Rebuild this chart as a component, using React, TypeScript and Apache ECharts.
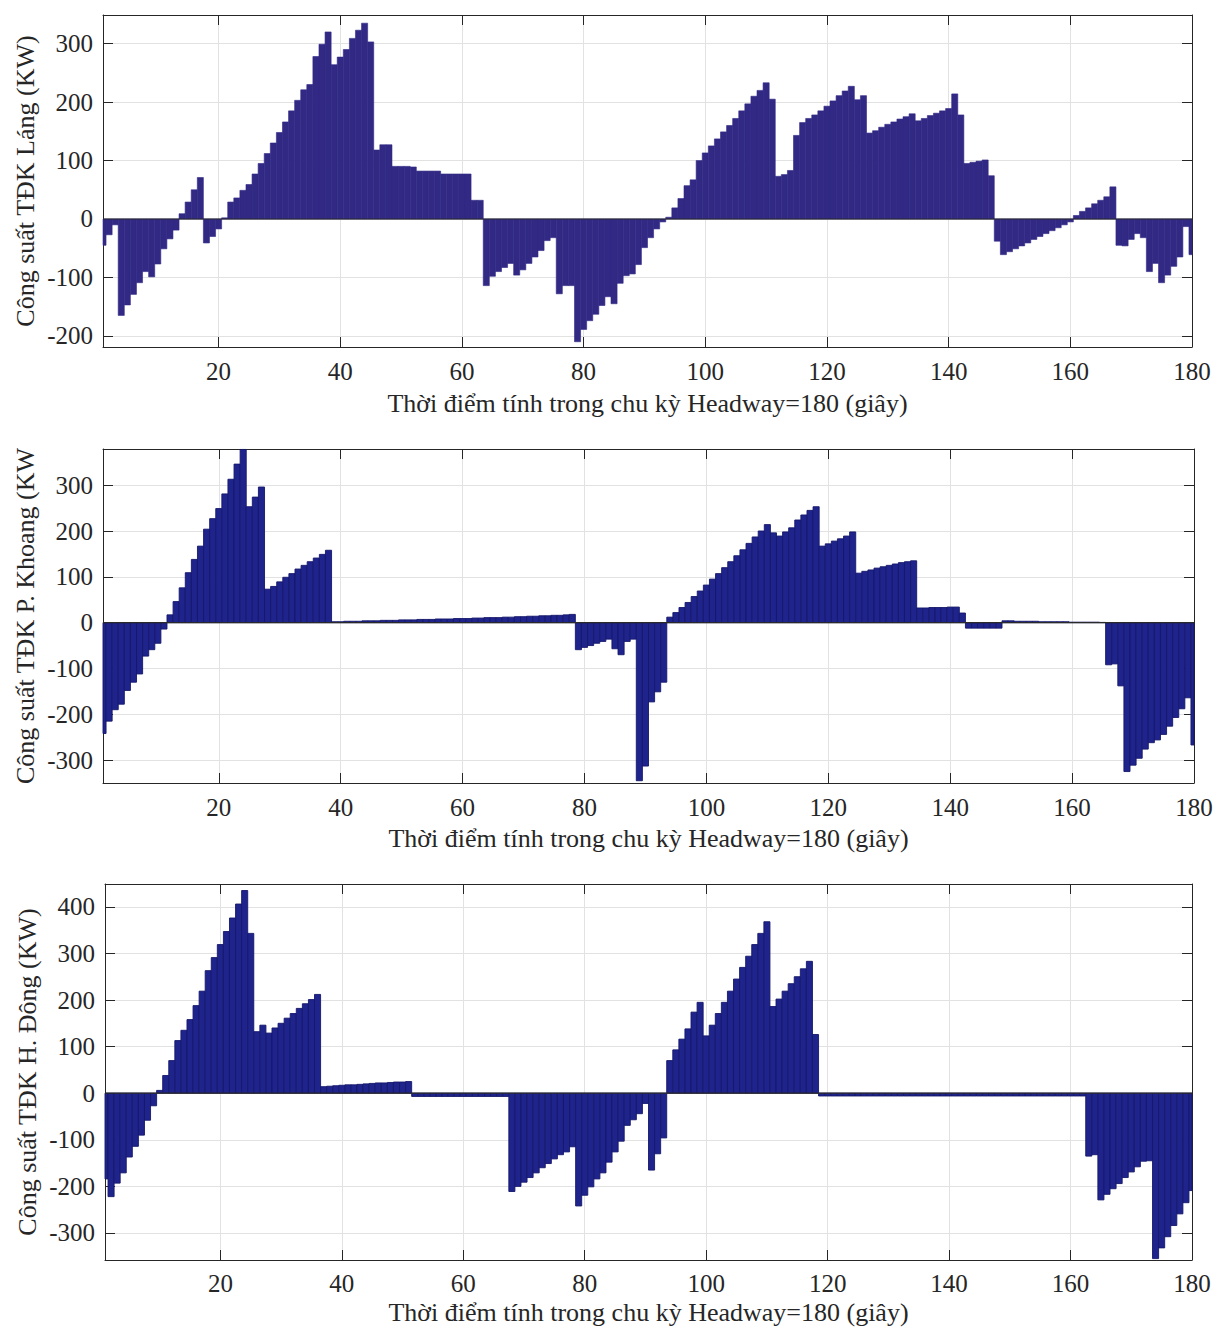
import React, { useEffect, useRef } from "react";
import * as echarts from "echarts";

// ---- data (kW per second, t = 1..180) ----
const langKW = [
  -45, -27, -10, -165, -147, -129, -109, -90, -99, -77,
  -51, -34, -19, 9, 29, 50, 71, -41, -30, -17,
  2, 29, 36, 49, 59, 77, 95, 112, 130, 148,
  166, 185, 203, 221, 230, 278, 299, 320, 264, 277,
  290, 309, 323, 335, 303, 118, 127, 127, 90, 90,
  90, 89, 82, 82, 82, 82, 77, 77, 77, 77,
  77, 32, 32, -114, -98, -90, -83, -76, -96, -87,
  -76, -65, -54, -37, -32, -128, -114, -114, -210, -189,
  -174, -163, -148, -133, -145, -110, -97, -94, -78, -49,
  -32, -17, -5, 3, 19, 35, 57, 67, 100, 113,
  125, 137, 149, 160, 172, 185, 197, 210, 220, 233,
  205, 73, 76, 83, 143, 165, 172, 178, 185, 193,
  202, 211, 219, 227, 204, 211, 147, 151, 157, 162,
  166, 171, 175, 180, 168, 172, 177, 181, 185, 189,
  214, 178, 95, 97, 99, 101, 74, -38, -61, -56,
  -51, -46, -41, -35, -30, -25, -20, -15, -10, -5,
  6, 13, 19, 26, 32, 38, 55, -45, -46, -35,
  -25, -32, -90, -76, -109, -96, -81, -65, -13, -61,
];

const khoangKW = [
  -242, -215, -190, -178, -148, -130, -112, -73, -59, -45,
  -14, 17, 46, 76, 109, 138, 167, 204, 227, 249,
  281, 313, 346, 378, 253, 274, 296, 73, 79, 89,
  99, 107, 117, 125, 133, 141, 149, 158, 2, 2,
  3, 3, 3, 4, 4, 4, 5, 5, 5, 6,
  6, 6, 7, 7, 7, 8, 8, 8, 9, 9,
  9, 10, 10, 11, 11, 11, 12, 12, 13, 13,
  14, 14, 15, 15, 16, 16, 17, 18, -59, -54,
  -50, -45, -41, -36, -57, -70, -41, -36, -345, -313,
  -173, -151, -130, 12, 22, 33, 44, 57, 69, 82,
  95, 107, 120, 133, 146, 159, 173, 187, 200, 214,
  196, 189, 198, 207, 224, 235, 245, 253, 167, 172,
  178, 183, 189, 198, 108, 112, 115, 119, 122, 125,
  128, 131, 133, 135, 32, 32, 33, 33, 33, 34,
  34, 21, -12, -12, -12, -12, -12, -12, 4, 4,
  3, 3, 3, 3, 2, 2, 2, 2, 2, 1,
  1, 1, 1, 1, 0.5, -92, -90, -138, -325, -311,
  -296, -276, -262, -256, -244, -226, -207, -188, -164, -267,
];

const dongKW = [
  -184, -222, -193, -171, -137, -114, -90, -58, -27, 6,
  38, 70, 113, 135, 158, 188, 219, 263, 291, 319,
  347, 376, 406, 435, 343, 132, 146, 129, 140, 150,
  161, 171, 182, 192, 201, 212, 14, 15, 16, 17,
  18, 18, 19, 20, 21, 22, 22, 23, 24, 24,
  25, -7, -7, -7, -7, -7, -7, -7, -7, -7,
  -7, -7, -7, -7, -7, -7, -7, -211, -200, -191,
  -181, -171, -160, -151, -141, -132, -126, -115, -242, -219,
  -201, -184, -171, -148, -126, -103, -69, -57, -44, -22,
  -165, -130, -96, 70, 93, 116, 138, 174, 195, 123,
  146, 171, 195, 219, 245, 270, 294, 319, 343, 368,
  186, 202, 219, 235, 250, 267, 283, 126, -6, -6,
  -6, -6, -6, -6, -6, -6, -6, -6, -6, -6,
  -6, -6, -6, -6, -6, -6, -6, -6, -6, -6,
  -6, -6, -6, -6, -6, -6, -6, -6, -6, -6,
  -6, -6, -6, -6, -6, -6, -6, -6, -6, -6,
  -6, -6, -135, -132, -229, -217, -205, -194, -181, -169,
  -158, -146, -145, -355, -332, -308, -284, -259, -235, -209,
];

const xTicks = [20, 40, 60, 80, 100, 120, 140, 160, 180];
const langTicks = [-200, -100, 0, 100, 200, 300];
const khoangTicks = [-300, -200, -100, 0, 100, 200, 300];
const dongTicks = [-300, -200, -100, 0, 100, 200, 300, 400];

const xTitle = "Thời điểm tính trong chu kỳ Headway=180 (giây)";
const yTitles = [
  "Công suất TĐK Láng (KW)",
  "Công suất TĐK P. Khoang (KW",
  "Công suất TĐK H. Đông (KW)",
];

const FONT = "'Liberation Serif', 'DejaVu Serif', serif";
const TXT = "#262626";
const TICK_FS = 25;
const TITLE_FS = 26;

const panels = [
  {
    data: langKW, yMin: -219, yMax: 349, yTicks: langTicks, title: yTitles[0],
    grid: { left: 103, top: 15, width: 1089, height: 332 },
    fill: "#312984", stroke: "#312984", strokeW: 0.6,
    labelMargin: 12, nameGap: 43,
  },
  {
    data: khoangKW, yMin: -350, yMax: 379, yTicks: khoangTicks, title: yTitles[1],
    grid: { left: 103, top: 449, width: 1091, height: 334 },
    fill: "#1F238C", stroke: "#15176A", strokeW: 0.9,
    labelMargin: 12, nameGap: 42,
  },
  {
    data: dongKW, yMin: -358, yMax: 449, yTicks: dongTicks, title: yTitles[2],
    grid: { left: 105, top: 884, width: 1087, height: 376 },
    fill: "#1F238C", stroke: "#15176A", strokeW: 0.9,
    labelMargin: 11, nameGap: 39,
  },
];

function buildOption() {
  const grid: any[] = [];
  const xAxis: any[] = [];
  const yAxis: any[] = [];
  const series: any[] = [];
  const lineStyle = { color: TXT, width: 1 };

  panels.forEach((p, i) => {
    grid.push({ ...p.grid, show: false, containLabel: false, outerBoundsMode: "none" });
    xAxis.push({
      type: "value", gridIndex: i, min: 1, max: 180, position: "bottom",
      axisLine: { show: true, onZero: false, lineStyle },
      axisTick: { show: true, inside: true, length: 10, customValues: xTicks, lineStyle },
      axisLabel: { customValues: xTicks, margin: p.labelMargin, color: TXT, fontFamily: FONT, fontSize: TICK_FS },
      splitLine: { show: true, lineStyle: { color: "#E2E2E2", width: 1 } },
      name: xTitle, nameLocation: "middle", nameGap: p.nameGap, nameMoveOverlap: false,
      nameTextStyle: { color: TXT, fontFamily: FONT, fontSize: TITLE_FS },
    });
    xAxis.push({
      type: "value", gridIndex: i, min: 1, max: 180, position: "top",
      axisLine: { show: true, onZero: false, lineStyle },
      axisTick: { show: true, inside: true, length: 10, customValues: xTicks, lineStyle },
      axisLabel: { show: false },
      splitLine: { show: false },
    });
    yAxis.push({
      type: "value", gridIndex: i, min: p.yMin, max: p.yMax, position: "left",
      axisLine: { show: true, onZero: false, lineStyle },
      axisTick: { show: true, inside: true, length: 10, customValues: p.yTicks, lineStyle },
      axisLabel: { customValues: p.yTicks, margin: 10, color: TXT, fontFamily: FONT, fontSize: TICK_FS },
      splitLine: { show: true, lineStyle: { color: "#E2E2E2", width: 1 } },
      name: p.title, nameLocation: "middle", nameGap: 65, nameMoveOverlap: false,
      nameTextStyle: { color: TXT, fontFamily: FONT, fontSize: TITLE_FS },
    });
    yAxis.push({
      type: "value", gridIndex: i, min: p.yMin, max: p.yMax, position: "right",
      axisLine: { show: true, onZero: false, lineStyle },
      axisTick: { show: true, inside: true, length: 10, customValues: p.yTicks, lineStyle },
      axisLabel: { show: false },
      splitLine: { show: false },
    });

    const fill = p.fill, stroke = p.stroke, strokeW = p.strokeW;
    series.push({
      type: "custom",
      xAxisIndex: 2 * i,
      yAxisIndex: 2 * i,
      data: p.data.map((v, k) => [k + 1, v]),
      encode: { x: 0, y: 1 },
      z: 2,
      renderItem: (params: any, api: any) => {
        const x = api.value(0);
        const v = api.value(1);
        const a = api.coord([x - 0.5, v]);
        const b = api.coord([x + 0.5, 0]);
        const rect = {
          x: a[0],
          y: Math.min(a[1], b[1]),
          width: b[0] - a[0],
          height: Math.abs(b[1] - a[1]),
        };
        const cs = params.coordSys;
        const shape = echarts.graphic.clipRectByRect(rect, {
          x: cs.x, y: cs.y, width: cs.width, height: cs.height,
        });
        if (!shape) return null;
        return {
          type: "rect",
          shape,
          style: { fill, stroke, lineWidth: strokeW },
        };
      },
    });
    series.push({
      type: "line",
      xAxisIndex: 2 * i,
      yAxisIndex: 2 * i,
      data: [[1, 0], [180, 0]],
      symbol: "none",
      silent: true,
      z: 3,
      lineStyle: { color: "#2a2a2a", width: 1.2 },
    });
  });

  return { animation: false, backgroundColor: "#ffffff", grid, xAxis, yAxis, series };
}

export default function App() {
  const ref = useRef<HTMLDivElement>(null);
  useEffect(() => {
    if (!ref.current) return;
    const chart = echarts.init(ref.current, undefined, { renderer: "svg" });
    chart.setOption(buildOption() as any);
    return () => chart.dispose();
  }, []);
  return (
    <div
      ref={ref}
      style={{ position: "absolute", left: 0, top: 0, width: 1216, height: 1328, background: "#fff" }}
    />
  );
}
